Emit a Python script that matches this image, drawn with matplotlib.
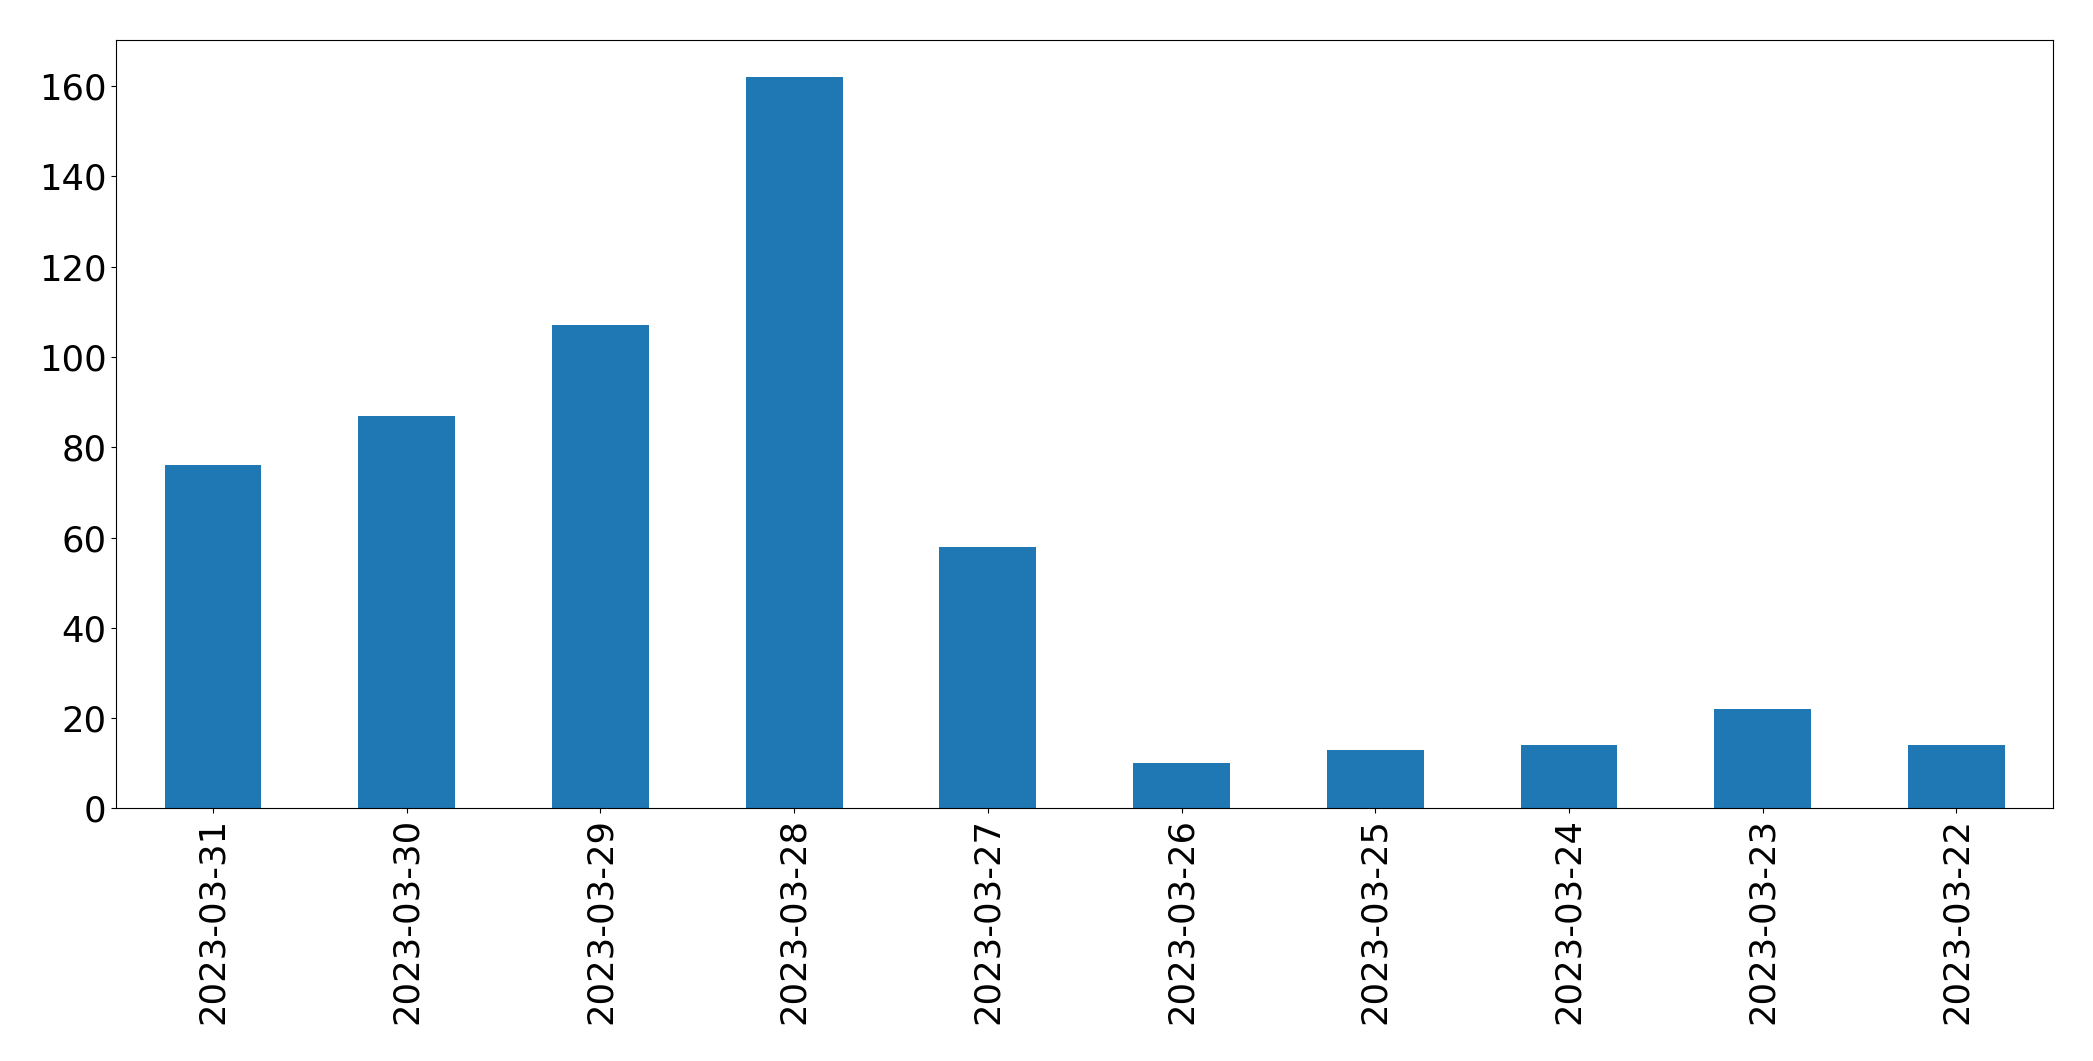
import pandas as pd
import matplotlib
matplotlib.use('Agg')
import matplotlib.pyplot as plt

# counts per day (newest first)
dates = ['2023-03-31', '2023-03-30', '2023-03-29', '2023-03-28', '2023-03-27',
         '2023-03-26', '2023-03-25', '2023-03-24', '2023-03-23', '2023-03-22']
counts = [76, 87, 107, 162, 58, 10, 13, 14, 22, 14]

s = pd.Series(counts, index=dates)

fig = plt.figure(figsize=(20.93, 10.61), dpi=100)
ax = fig.add_axes([0.0555, 0.238, 0.9255, 0.724])
s.plot(kind='bar', ax=ax, color='#1f77b4')
ax.tick_params(axis='both', labelsize=25.5)

plt.savefig('out.png', dpi=100)
